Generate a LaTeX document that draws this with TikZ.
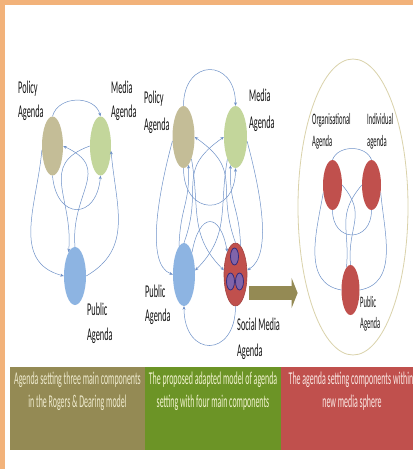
\documentclass[tikz,border=0pt]{standalone}
\usepackage{fontspec}
\usepackage{graphicx}
\usetikzlibrary{shapes.geometric,arrows.meta}
\newfontfamily\calib{Carlito}
\definecolor{corange}{RGB}{242,178,122}
\definecolor{cpol}{RGB}{196,189,151}
\definecolor{cmed}{RGB}{195,214,155}
\definecolor{cpub}{RGB}{141,180,226}
\definecolor{cred}{RGB}{192,80,77}
\definecolor{cpur}{RGB}{128,100,170}
\definecolor{cdk}{RGB}{55,45,125}
\definecolor{cline}{RGB}{110,145,200}
\definecolor{colive}{RGB}{148,138,84}
\definecolor{cgreen}{RGB}{108,148,38}
\definecolor{csphere}{RGB}{218,210,170}
\definecolor{ctext}{RGB}{20,20,20}
\newcommand\narrow[2]{\scalebox{#1}[1]{#2}}
\begin{document}
\begin{tikzpicture}[x=1pt,y=1pt,
  blob/.style={ellipse, inner sep=0pt, draw=none},
  mini/.style={ellipse, inner sep=0pt, fill=cpur, draw=cdk, line width=0.8pt,
    minimum width=8pt, minimum height=17pt},
  con/.style={draw=cline, line width=0.5pt},
  cona/.style={con, -{Stealth[length=3.5pt,width=3pt]}},
  lbl/.style={anchor=base west, inner sep=0pt, text=ctext,
    font=\calib\fontsize{18}{20}\selectfont},
  slbl/.style={anchor=base west, inner sep=0pt, text=ctext,
    font=\calib\fontsize{16}{18}\selectfont},
  band/.style={anchor=base, inner sep=0pt,
    font=\calib\fontsize{18}{20}\selectfont}]
\useasboundingbox (0,0) rectangle (413,-469);
\fill[white] (0,0) rectangle (413,-469);
% frame strips
\fill[corange] (0,0) rectangle (413,-5);
\fill[corange] (0,0) rectangle (5,-469);

% caption bands
\fill[colive] (10,-367) rectangle (145,-450);
\fill[cgreen] (145,-367) rectangle (281,-450);
\fill[cred] (281,-367) rectangle (413,-450);
\node[band, text={rgb,255:red,238;green,234;blue,205}] (b1a) at (77.5,-384) {\narrow{0.44}{Agenda setting three main components}};
\node[band, text={rgb,255:red,238;green,234;blue,205}] (b1b) at (77.5,-407) {\narrow{0.44}{in the Rogers \& Dearing model}};
\node[band, text={rgb,255:red,240;green,242;blue,205}] (b2a) at (213,-384) {\narrow{0.44}{The proposed adapted model of agenda}};
\node[band, text={rgb,255:red,240;green,242;blue,205}] (b2b) at (213,-407) {\narrow{0.44}{setting with four main components}};
\node[band, text={rgb,255:red,250;green,232;blue,228}] (b3a) at (351,-384) {\narrow{0.44}{The agenda setting components within}};
\node[band, text={rgb,255:red,250;green,232;blue,228}] (b3b) at (352,-407) {\narrow{0.44}{new media sphere}};

% new media sphere
\node[ellipse, draw=csphere, line width=0.8pt, minimum width=110pt, minimum height=296pt, inner sep=0pt] (sphere) at (353,-207) {};

% ---- Rogers & Dearing model ----
\node[blob, fill=cpol, minimum width=21pt, minimum height=59pt] (lpol) at (52.5,-146) {};
\node[blob, fill=cmed, minimum width=21pt, minimum height=59pt] (lmed) at (100.5,-146) {};
\node[blob, fill=cpub, minimum width=22pt, minimum height=58pt] (lpub) at (75,-276) {};
\draw[cona] (lpol.north) to[out=75,in=105,distance=22] (lmed.north);
\draw[cona] (lpol.south) to[out=-85,in=-95,distance=45] (lmed.south);
\draw[cona] (lpub.north) to[out=95,in=-25,distance=55] (lpol.east);
\draw[cona] (lmed.west) to[out=200,in=85,distance=55] (lpub.105);
\draw[cona] (lpol.200) to[out=-95,in=165,distance=55] (lpub.west);
\draw[cona] (lpub.east) to[out=30,in=-85,distance=55] (lmed.-25);
\node[lbl] (lpolt1) at (18,-93) {\narrow{0.46}{Policy}};
\node[lbl] (lpolt2) at (18,-117) {\narrow{0.46}{Agenda}};
\node[lbl] (lmedt1) at (111,-93) {\narrow{0.46}{Media}};
\node[lbl] (lmedt2) at (111,-117) {\narrow{0.46}{Agenda}};
\node[lbl] (lpubt1) at (87,-315) {\narrow{0.46}{Public}};
\node[lbl] (lpubt2) at (87,-340) {\narrow{0.46}{Agenda}};

% ---- adapted model ----
\node[blob, fill=cpol, minimum width=22pt, minimum height=62pt] (mpol) at (183.5,-137) {};
\node[blob, fill=cmed, minimum width=23pt, minimum height=62pt] (mmed) at (235.5,-137) {};
\node[blob, fill=cpub, minimum width=22pt, minimum height=63pt] (mpub) at (184,-274.5) {};
\node[blob, fill=cred, draw=cred!85!black, line width=0.6pt, minimum width=23pt, minimum height=63pt] (msoc) at (235.5,-274.5) {};
\node[mini] (sm1) at (234.5,-256.5) {};
\node[mini] (sm2) at (230.5,-281.5) {};
\node[mini] (sm3) at (239.5,-281.5) {};
\draw[cona] (mpol.north) to[out=90,in=90,distance=48] (mmed.north);
\draw[cona] (mpol.south) to[out=-90,in=-90,distance=49] (mmed.south);
\draw[cona] (mpub.70) to[out=80,in=100,distance=41] (msoc.110);
\draw[cona] (msoc.south) to[out=-90,in=-90,distance=52] (mpub.south);
\draw[cona] (mpol.200) to[out=-105,in=160,out distance=50,in distance=30] (mpub.west);
\draw[cona] (mmed.-20) to[out=-75,in=30,out distance=50,in distance=30] (msoc.20);
\draw[cona] (msoc.north) to[out=110,in=-35,distance=60] (mpol.east);
\draw[cona] (mpub.north) to[out=70,in=215,distance=60] (mmed.west);
\draw[cona] (mmed.250) to[out=-100,in=45,distance=50] (mpub.20);
\draw[cona] (mpol.290) to[out=-80,in=135,distance=50] (msoc.160);
\draw[cona] (mpub.100) to[out=88,in=-88,distance=40] (mpol.-80);
\draw[cona] (msoc.80) to[out=92,in=-92,distance=40] (mmed.-100);
\node[lbl] (mpolt1) at (144,-103) {\narrow{0.46}{Policy}};
\node[lbl] (mpolt2) at (144,-130) {\narrow{0.46}{Agenda}};
\node[lbl] (mmedt1) at (249,-101) {\narrow{0.46}{Media}};
\node[lbl] (mmedt2) at (249,-128) {\narrow{0.46}{Agenda}};
\node[lbl] (mpubt1) at (145,-297) {\narrow{0.46}{Public}};
\node[lbl] (mpubt2) at (145,-321) {\narrow{0.46}{Agenda}};
\node[lbl] (msoct1) at (237,-330) {\narrow{0.46}{Social Media}};
\node[lbl] (msoct2) at (237,-356) {\narrow{0.46}{Agenda}};

% transition arrow
\draw[colive, line width=14pt, -{Triangle[length=6pt,width=30pt]}] (249,-293) -- (sphere.west |- 0,-293);

% ---- new media sphere components ----
\node[blob, fill=cred, minimum width=19pt, minimum height=50pt] (rorg) at (332.5,-185) {};
\node[blob, fill=cred, minimum width=19pt, minimum height=50pt] (rind) at (371.5,-185) {};
\node[blob, fill=cred, minimum width=18pt, minimum height=50pt] (rpub) at (350.5,-290) {};
\draw[con] (rorg.north) to[out=70,in=110,distance=16] (rind.north);
\draw[con] (rorg.south) to[out=-90,in=-90,distance=33] (rind.south);
\draw[con] (rorg.east) to[out=-50,in=95,distance=40] (rpub.north);
\draw[con] (rind.west) to[out=230,in=85,distance=40] (rpub.100);
\draw[con] (rorg.220) to[out=-100,in=170,distance=40] (rpub.west);
\draw[con] (rind.-40) to[out=-85,in=10,distance=40] (rpub.east);
\node[slbl] (rorgt1) at (312,-124) {\narrow{0.41}{Organisational}};
\node[slbl] (rorgt2) at (312,-146) {\narrow{0.41}{Agenda}};
\node[slbl] (rindt1) at (367,-124) {\narrow{0.41}{Individual}};
\node[slbl] (rindt2) at (367,-146) {\narrow{0.41}{agenda}};
\node[slbl] (rpubt1) at (360,-307) {\narrow{0.41}{Public}};
\node[slbl] (rpubt2) at (360,-328) {\narrow{0.41}{Agenda}};
\end{tikzpicture}
\end{document}
